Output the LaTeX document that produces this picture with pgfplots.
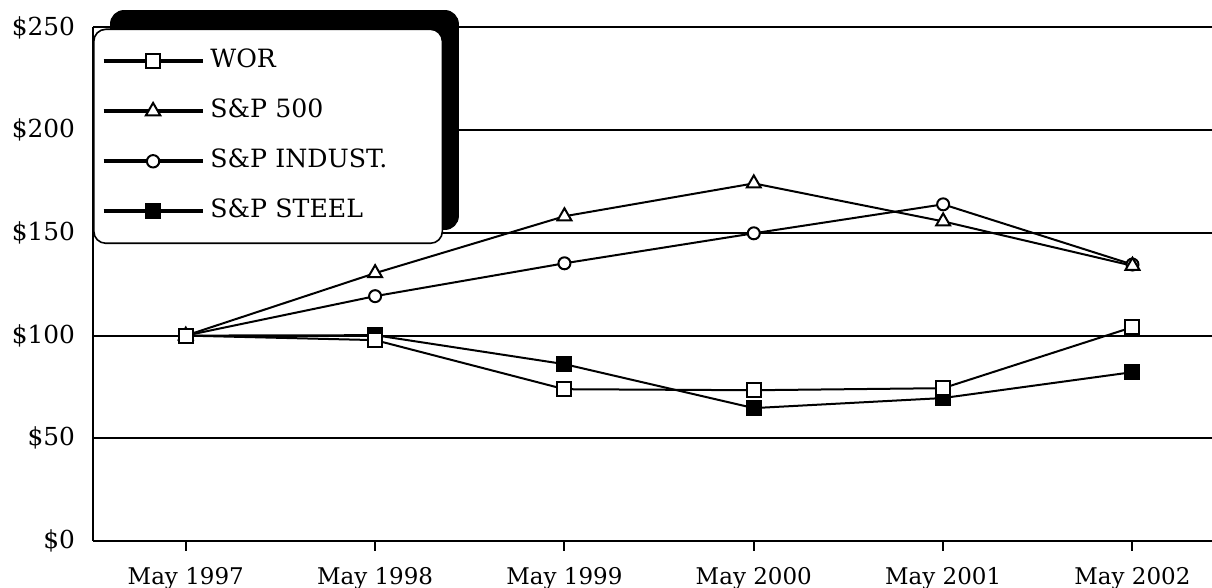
\documentclass[border=0pt]{standalone}
\usepackage{fontspec}
\setmainfont{DejaVu Serif}
\usepackage{pgfplots}
\pgfplotsset{compat=1.18}
\begin{document}
\begin{tikzpicture}
\useasboundingbox (-46.5pt,-23.5pt) rectangle (559.5pt,270.5pt);
\begin{axis}[
  scale only axis,
  width=559.5pt, height=256.75pt,
  xmin=-0.49, xmax=5.42, ymin=0, ymax=250,
  clip=false,
  axis x line*=bottom, axis y line*=left,
  axis line style={-, line width=1pt, black},
  xtick={0,1,2,3,4,5},
  xticklabels={May 1997,May 1998,May 1999,May 2000,May 2001,May 2002},
  ytick={0,50,100,150,200,250},
  yticklabel={\$\pgfmathprintnumber{\tick}},
  /pgf/number format/assume math mode=true,
  xticklabel style={font=\fontsize{11.5}{13}\selectfont, black, yshift=-4.5pt},
  yticklabel style={font=\fontsize{12.4}{14}\selectfont, black, xshift=-0.5pt},
  xtick style={black, line width=1pt},
  ytick style={draw=none},
  tick align=outside,
  major tick length=5pt,
  ymajorgrids,
  grid style={black, line width=1pt},
  legend cell align=left,
  legend style={
    at={(0,1)}, anchor=north west, xshift=0pt, yshift=-0.5pt,
    draw=black, line width=0.8pt, rounded corners=6pt, fill=white,
    inner xsep=4pt, inner ysep=9.75pt,
    row sep=12.5pt, column sep=3pt,
    font=\fontsize{12.6}{14}\selectfont,
    nodes={inner sep=0pt, text height=9.3pt, text depth=3.2pt, text width=112pt, align=left},
  },
  legend image code/.code={
    \draw[#1] (0pt,0pt) -- (49.5pt,0pt);
    \draw[#1] plot coordinates {(24.75pt,0pt)};
  },
]
\addplot[black, line width=1pt, mark=square*, mark size=3.5pt, mark options={fill=black, line width=1pt}, forget plot]
  coordinates {(0,100) (1,100.2) (2,86.1) (3,64.7) (4,69.6) (5,82.2)};
\addplot[black, line width=1pt, mark=square*, mark size=3.5pt, mark options={fill=white, line width=1pt}, forget plot]
  coordinates {(0,100) (1,97.8) (2,73.9) (3,73.4) (4,74.4) (5,104.1)};
\addplot[black, line width=1pt, mark=*, mark size=3pt, mark options={fill=white, line width=1pt}, forget plot]
  coordinates {(0,100) (1,119.2) (2,135.2) (3,149.8) (4,163.9) (5,134.6)};
\addplot[black, line width=1pt, mark=triangle*, mark size=4pt, mark options={fill=white, line width=1pt}, forget plot]
  coordinates {(0,100) (1,130.4) (2,158.1) (3,174.1) (4,155.6) (5,134.0)};
\addplot[black, line width=1pt, mark=square*, mark size=3.5pt, mark options={fill=white, line width=1pt}, forget plot]
  coordinates {(0,100)};
\addlegendimage{black, line width=1.8pt, mark=square*, mark size=3.4pt, mark options={fill=white, line width=1pt}}
\addlegendentry{WOR}
\addlegendimage{black, line width=1.8pt, mark=triangle*, mark size=4.2pt, mark options={fill=white, line width=1pt}}
\addlegendentry{S\&P 500}
\addlegendimage{black, line width=1.8pt, mark=*, mark size=3.1pt, mark options={fill=white, line width=1pt}}
\addlegendentry{S\&P INDUST.}
\addlegendimage{black, line width=1.8pt, mark=square*, mark size=3.6pt, mark options={fill=black, line width=1pt}}
\addlegendentry{S\&P STEEL}
\fill[black, rounded corners=7pt] (axis description cs:0.0152,0.6057) rectangle (axis description cs:0.327,1.034);
\end{axis}
\end{tikzpicture}
\end{document}
